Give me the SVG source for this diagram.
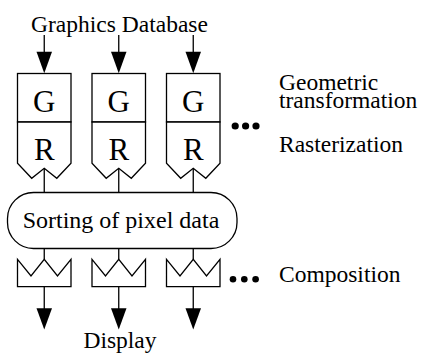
<svg xmlns="http://www.w3.org/2000/svg" width="428" height="362" viewBox="0 0 428 362">
<style>
.s{fill:#fff;stroke:#000;stroke-width:1.3;stroke-linejoin:miter}
.l{fill:none;stroke:#000;stroke-width:1.3}
.h{fill:#000;stroke:none}
.t{font-family:"Liberation Serif","Times New Roman",serif;fill:#000}
.big{font-size:31px;text-anchor:middle}
.lab{font-size:23.5px}
.d{fill:#000}
</style>
<defs>
<g id="unitG">
<rect class="s" x="17.5" y="73.5" width="53.5" height="48.5"/>
<text class="t big" x="44.25" y="111.5">G</text>
</g>
<g id="unitR">
<polygon class="s" points="17.5,122 71,122 71,163.3 56.8,178.3 44.25,168.3 31.7,178.3 17.5,163.3"/>
<text class="t big" x="44.25" y="159.8">R</text>
</g>
<g id="unitC">
<polygon class="s" points="17.5,259.3 31,276 44.25,259.3 57.5,276 71,259.3 71,286.7 17.5,286.7"/>
</g>
<g id="wires">
<line class="l" x1="44.25" y1="35" x2="44.25" y2="53"/>
<polygon class="h" points="36.5,51.7 52,51.7 44.25,73.3"/>
<line class="l" x1="44.25" y1="168.3" x2="44.25" y2="192.5"/>
<line class="l" x1="44.25" y1="248.5" x2="44.25" y2="259.3"/>
<line class="l" x1="44.25" y1="286.7" x2="44.25" y2="310"/>
<polygon class="h" points="36.5,308.3 52,308.3 44.25,329.5"/>
</g>
</defs>

<g id="connectors">
<use href="#wires"/>
<use href="#wires" transform="translate(74.5,0)"/>
<use href="#wires" transform="translate(149,0)"/>
</g>

<g id="g1"><use href="#unitG"/></g>
<g id="g2"><use href="#unitG" transform="translate(74.5,0)"/></g>
<g id="g3"><use href="#unitG" transform="translate(149,0)"/></g>
<g id="r1"><use href="#unitR"/></g>
<g id="r2"><use href="#unitR" transform="translate(74.5,0)"/></g>
<g id="r3"><use href="#unitR" transform="translate(149,0)"/></g>

<g id="sort">
<rect class="s" x="7.5" y="192.5" width="229.5" height="56" rx="26" ry="26"/>
<text class="t" x="121" y="228.3" font-size="24" text-anchor="middle">Sorting of pixel data</text>
</g>

<g id="c1"><use href="#unitC"/></g>
<g id="c2"><use href="#unitC" transform="translate(74.5,0)"/></g>
<g id="c3"><use href="#unitC" transform="translate(149,0)"/></g>

<g id="source"><text class="t lab" x="119.5" y="31.5" text-anchor="middle">Graphics Database</text></g>
<g id="display"><text class="t lab" x="120" y="348.3" text-anchor="middle">Display</text></g>

<g id="labels">
<text class="t lab" x="279" y="90">Geometric<tspan x="279" y="108">transformation</tspan></text>
<text class="t lab" x="279" y="151.7">Rasterization</text>
<text class="t lab" x="279" y="281.7">Composition</text>
</g>

<g id="dots1">
<circle class="d" cx="235.2" cy="126" r="3.6"/>
<circle class="d" cx="245.6" cy="126" r="3.6"/>
<circle class="d" cx="256" cy="126" r="3.6"/>
</g>
<g id="dots2">
<circle class="d" cx="233" cy="279.2" r="3.3"/>
<circle class="d" cx="244.3" cy="279.2" r="3.3"/>
<circle class="d" cx="255.6" cy="279.2" r="3.3"/>
</g>
</svg>
